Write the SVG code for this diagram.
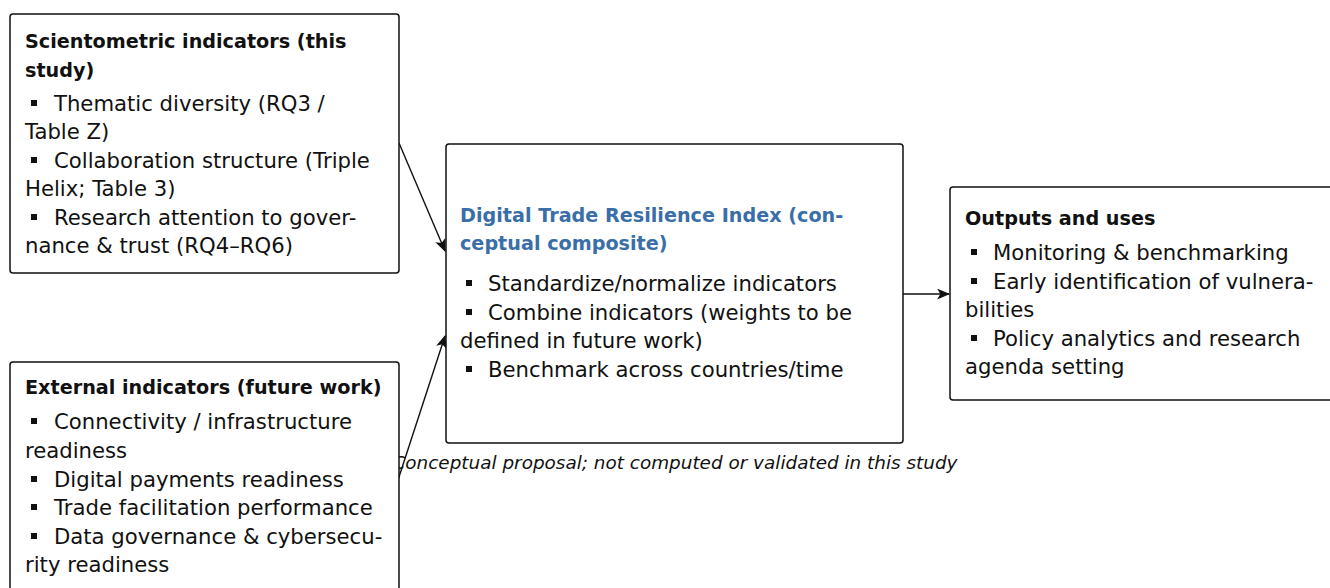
<svg xmlns="http://www.w3.org/2000/svg" width="1330" height="588" viewBox="0 0 1330 588">
<defs>
<marker id="arr" viewBox="0 0 12 10" refX="11" refY="5" markerWidth="13" markerHeight="11" markerUnits="userSpaceOnUse" orient="auto">
<path d="M0,0 L12,5 L0,10 L3,5 Z" fill="#111"/>
</marker>
<style>
.box{fill:#fff;stroke:#111;stroke-width:1.5}
text{font-family:"DejaVu Sans","Liberation Sans",sans-serif;font-size:21.2px;fill:#111}
.t{font-weight:bold;font-size:19.2px}
.blue{fill:#3a6ea8}
.bul{fill:#111}
.edge{stroke:#111;stroke-width:1.4;fill:none}
.lab{font-style:italic;font-size:18.4px}
</style>
</defs>
<rect width="1330" height="588" fill="#fff"/>
<g id="connectors">
<line class="edge" x1="399" y1="143" x2="445" y2="251" marker-end="url(#arr)"/>
<line class="edge" x1="398" y1="480" x2="445" y2="336" marker-end="url(#arr)"/>
<line class="edge" x1="903" y1="294" x2="949" y2="294" marker-end="url(#arr)"/>
<text class="lab" x="675" y="469" text-anchor="middle">Conceptual proposal; not computed or validated in this study</text>
</g>
<g id="scientometric">
<rect class="box" x="10" y="14" width="389" height="259" rx="3"/>
<text class="t" x="25" y="48">Scientometric indicators (this</text>
<text class="t" x="25" y="77">study)</text>
<rect class="bul" x="31" y="100" width="6" height="6"/>
<text x="54" y="111">Thematic diversity (RQ3 /</text>
<text x="25" y="139">Table Z)</text>
<rect class="bul" x="31" y="157" width="6" height="6"/>
<text x="54" y="168">Collaboration structure (Triple</text>
<text x="25" y="196">Helix; Table 3)</text>
<rect class="bul" x="31" y="214" width="6" height="6"/>
<text x="54" y="225">Research attention to gover-</text>
<text x="25" y="253">nance &amp; trust (RQ4–RQ6)</text>
</g>
<g id="external">
<rect class="box" x="10" y="362" width="389" height="240" rx="3"/>
<text class="t" x="25" y="394">External indicators (future work)</text>
<rect class="bul" x="31" y="418" width="6" height="6"/>
<text x="54" y="429">Connectivity / infrastructure</text>
<text x="25" y="458">readiness</text>
<rect class="bul" x="31" y="476" width="6" height="6"/>
<text x="54" y="487">Digital payments readiness</text>
<rect class="bul" x="31" y="504" width="6" height="6"/>
<text x="54" y="515">Trade facilitation performance</text>
<rect class="bul" x="31" y="533" width="6" height="6"/>
<text x="54" y="544">Data governance &amp; cybersecu-</text>
<text x="25" y="572">rity readiness</text>
</g>
<g id="dtri">
<rect class="box" x="446" y="144" width="457" height="299" rx="3"/>
<text class="t blue" x="460" y="222">Digital Trade Resilience Index (con-</text>
<text class="t blue" x="460" y="250">ceptual composite)</text>
<rect class="bul" x="466" y="280" width="6" height="6"/>
<text x="488" y="291">Standardize/normalize indicators</text>
<rect class="bul" x="466" y="309" width="6" height="6"/>
<text x="488" y="320">Combine indicators (weights to be</text>
<text x="460" y="348">defined in future work)</text>
<rect class="bul" x="466" y="366" width="6" height="6"/>
<text x="488" y="377">Benchmark across countries/time</text>
</g>
<g id="outputs">
<rect class="box" x="950" y="187" width="395" height="213" rx="3"/>
<text class="t" x="965" y="225">Outputs and uses</text>
<rect class="bul" x="971" y="249" width="6" height="6"/>
<text x="993" y="260">Monitoring &amp; benchmarking</text>
<rect class="bul" x="971" y="278" width="6" height="6"/>
<text x="993" y="289">Early identification of vulnera-</text>
<text x="965" y="317">bilities</text>
<rect class="bul" x="971" y="335" width="6" height="6"/>
<text x="993" y="346">Policy analytics and research</text>
<text x="965" y="374">agenda setting</text>
</g>
</svg>
